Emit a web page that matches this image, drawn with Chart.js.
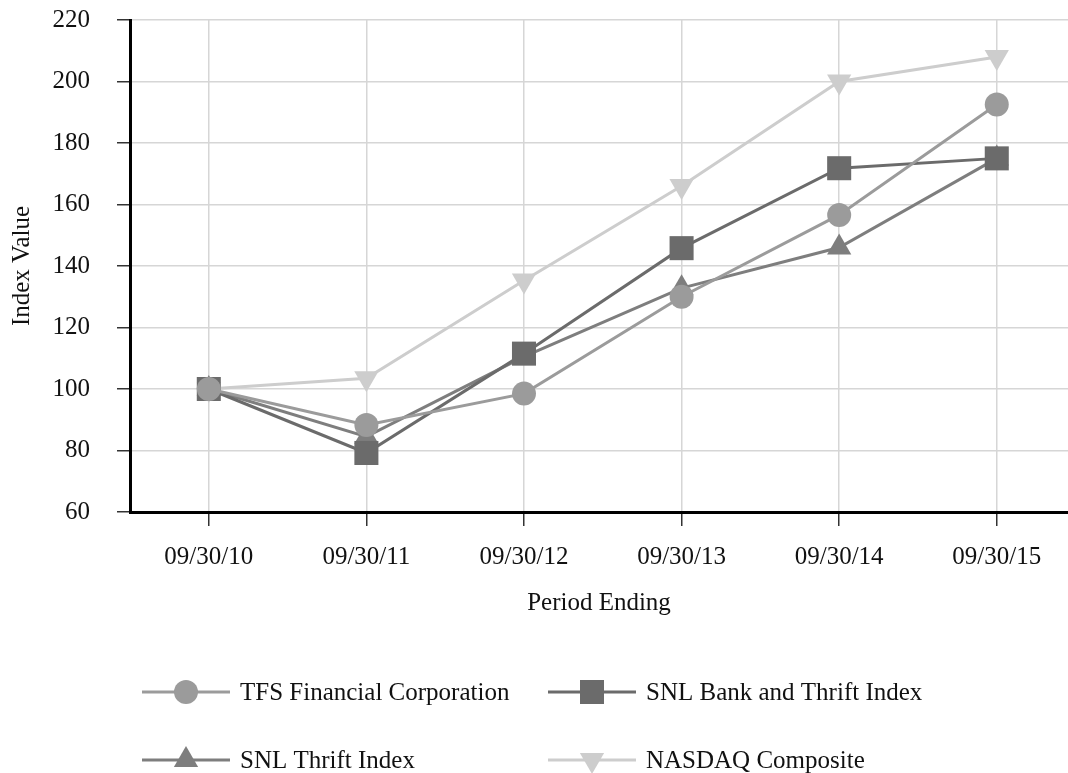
<!DOCTYPE html>
<html>
<head>
<meta charset="utf-8">
<script src="https://cdn.jsdelivr.net/npm/chart.js@4/dist/chart.umd.min.js"></script>
<style>
  html, body { margin: 0; padding: 0; background: #fff; overflow: hidden; }
  #wrap { width: 1068px; height: 773px; }
</style>
</head>
<body>
<div id="wrap"><canvas id="perfChart" width="1068" height="773"></canvas></div>
<script>
// tick labels for the x axis (one per period)
const periodLabels = ['09/30/10', '09/30/11', '09/30/12', '09/30/13', '09/30/14', '09/30/15'];

// series values
const tfsValues = [100, 88.3, 98.5, 130, 156.6, 192.5];
const snlBankThriftValues = [100, 79.2, 111.5, 145.8, 171.8, 175];
const snlThriftValues = [100, 84.5, 110.5, 132.8, 146, 175];
const nasdaqValues = [100, 103.5, 135.3, 166, 200, 208];

const yTicks = { min: 60, max: 220, step: 20 };

const serif = "'Liberation Serif', 'Times New Roman', serif";

function toPoints(values) {
    return values.map((v, i) => ({ x: i, y: v }));
}

const seriesDefs = [
    { label: 'TFS Financial Corporation', values: tfsValues, color: '#9b9b9b', style: 'circle', radius: 12, rotation: 0 },
    { label: 'SNL Bank and Thrift Index', values: snlBankThriftValues, color: '#6b6b6b', style: 'rect', radius: 17, rotation: 0 },
    { label: 'SNL Thrift Index', values: snlThriftValues, color: '#7e7e7e', style: 'triangle', radius: 14, rotation: 0 },
    { label: 'NASDAQ Composite', values: nasdaqValues, color: '#cdcdcd', style: 'triangle', radius: 14, rotation: 180 }
];

// draws the 2x2 legend below the axis, line + marker + text
const bottomLegend = {
    id: 'bottomLegend',
    afterDraw(chart) {
        const ctx = chart.ctx;
        const cols = [142, 548];
        const rows = [692, 760];
        chart.data.datasets.forEach((ds, i) => {
            const x = cols[i % 2];
            const y = rows[Math.floor(i / 2)];
            ctx.save();
            ctx.strokeStyle = ds.borderColor;
            ctx.lineWidth = 3;
            ctx.beginPath();
            ctx.moveTo(x, y);
            ctx.lineTo(x + 88, y);
            ctx.stroke();
            ctx.fillStyle = ds.pointBackgroundColor;
            ctx.strokeStyle = ds.pointBackgroundColor;
            Chart.helpers.drawPoint(ctx, {
                pointStyle: ds.pointStyle,
                rotation: ds.pointRotation,
                radius: ds.pointRadius,
                borderWidth: 0
            }, x + 44, y);
            ctx.fillStyle = '#111';
            ctx.font = '25px ' + serif;
            ctx.textAlign = 'left';
            ctx.textBaseline = 'middle';
            ctx.fillText(ds.label, x + 98, y + 1);
            ctx.restore();
        });
    }
};

new Chart(document.getElementById('perfChart'), {
    type: 'line',
    data: {
        datasets: seriesDefs.map(s => ({
            label: s.label,
            data: toPoints(s.values),
            borderColor: s.color,
            backgroundColor: s.color,
            pointBackgroundColor: s.color,
            pointBorderColor: s.color,
            pointStyle: s.style,
            pointRadius: s.radius,
            pointRotation: s.rotation,
            pointBorderWidth: 0,
            borderWidth: 3,
            tension: 0,
            fill: false
        }))
    },
    options: {
        responsive: false,
        animation: false,
        layout: { autoPadding: false, padding: { left: 0, right: 0, top: 20, bottom: 151 } },
        plugins: {
            legend: { display: false },
            tooltip: { enabled: false }
        },
        scales: {
            x: {
                type: 'linear',
                min: -0.5,
                max: 5.452,
                afterFit: (scale) => {
                    scale.height = 110;
                    scale.paddingLeft = 0;
                    scale.paddingRight = 0;
                },
                border: { color: '#000', width: 3 },
                grid: { color: '#d6d6d6', lineWidth: 1.5, tickColor: '#333', tickLength: 14, tickWidth: 1.5 },
                ticks: {
                    stepSize: 1,
                    includeBounds: false,
                    autoSkip: false,
                    maxRotation: 0,
                    padding: 16,
                    color: '#111',
                    font: { family: serif, size: 25 },
                    callback: (v) => periodLabels[v] !== undefined ? periodLabels[v] : ''
                },
                title: {
                    display: true,
                    text: 'Period Ending',
                    color: '#111',
                    font: { family: serif, size: 25 },
                    padding: { top: 0, bottom: 4 }
                }
            },
            y: {
                min: yTicks.min,
                max: yTicks.max,
                afterFit: (scale) => {
                    scale.width = 130;
                    scale.paddingTop = 0;
                    scale.paddingBottom = 0;
                },
                border: { color: '#000', width: 3 },
                grid: { color: '#d6d6d6', lineWidth: 1.5, tickColor: '#333', tickLength: 13, tickWidth: 1.5 },
                ticks: {
                    stepSize: yTicks.step,
                    padding: 27,
                    color: '#111',
                    font: { family: serif, size: 25 }
                },
                title: {
                    display: true,
                    text: 'Index Value',
                    color: '#111',
                    font: { family: serif, size: 25 },
                    padding: { top: 7, bottom: 0 }
                }
            }
        }
    },
    plugins: [bottomLegend]
});
</script>
</body>
</html>
